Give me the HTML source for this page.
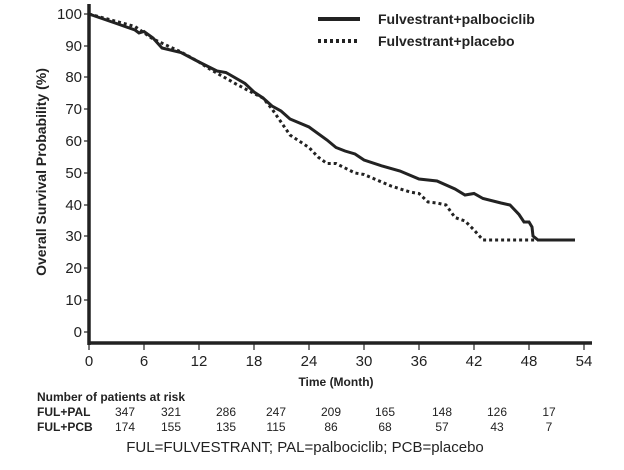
<!DOCTYPE html>
<html><head><style>body{margin:0;background:#fff}svg{display:block}text{font-family:"Liberation Sans",Arial,sans-serif;fill:#222}</style></head><body>
<svg width="624" height="470" viewBox="0 0 624 470">
<g stroke="#222" fill="none">
<line x1="89" y1="4" x2="89" y2="345" stroke-width="3.5"/>
<line x1="87.5" y1="343" x2="592" y2="343" stroke-width="3.5"/>
<g stroke-width="1.2">
<line x1="84" y1="14" x2="89" y2="14"/><line x1="84" y1="46" x2="89" y2="46"/><line x1="84" y1="77" x2="89" y2="77"/><line x1="84" y1="109" x2="89" y2="109"/><line x1="84" y1="141" x2="89" y2="141"/><line x1="84" y1="173" x2="89" y2="173"/><line x1="84" y1="205" x2="89" y2="205"/><line x1="84" y1="236" x2="89" y2="236"/><line x1="84" y1="268" x2="89" y2="268"/><line x1="84" y1="300" x2="89" y2="300"/><line x1="84" y1="332" x2="89" y2="332"/>
<line x1="89" y1="343" x2="89" y2="350"/><line x1="144" y1="343" x2="144" y2="350"/><line x1="199" y1="343" x2="199" y2="350"/><line x1="254" y1="343" x2="254" y2="350"/><line x1="309" y1="343" x2="309" y2="350"/><line x1="364" y1="343" x2="364" y2="350"/><line x1="419" y1="343" x2="419" y2="350"/><line x1="474" y1="343" x2="474" y2="350"/><line x1="529" y1="343" x2="529" y2="350"/><line x1="584" y1="343" x2="584" y2="350"/>
</g>
<polyline stroke-width="3" points="89,14 116.5,23.5 135,30 139,33 144,31.5 153,38 162,48 181,52.5 199,62 217,71 226,72.5 245,83.5 254,92 263,98 272,106 281,111 290,119 309,127 327,140 336,147.5 345,151 355,154 364,160 382,166 400,171 419,179 437,181 455,189 465,195 474,193.5 483,198.5 501,203 510,205 519,214.5 524,222 529,222 532,227 533,236 538,240 575,240"/>
<polyline stroke-width="3" stroke-dasharray="3,3" points="89,14 135,26.5 153,39 181,52 199,62 208,68 236,84 254,93.5 263,98 272,109 281,122 290,135 309,147.5 318,157 327,163.5 336,163.5 355,173 364,174.5 391,186 410,192 419,193.5 428,202 437,203 446,205 455,217.5 465,221 474,230 483,240 556,240"/>
<line x1="318" y1="19" x2="360" y2="19" stroke-width="4"/>
<line x1="318" y1="41" x2="360" y2="41" stroke-width="4" stroke-dasharray="3,3"/>
</g>
<text x="378" y="24" font-size="14" font-weight="bold">Fulvestrant+palbociclib</text>
<text x="378" y="46" font-size="14" font-weight="bold">Fulvestrant+placebo</text>
<g font-size="15" text-anchor="end">
<text x="82" y="19">100</text><text x="82" y="51">90</text><text x="82" y="82">80</text><text x="82" y="114">70</text><text x="82" y="146">60</text><text x="82" y="178">50</text><text x="82" y="210">40</text><text x="82" y="241">30</text><text x="82" y="273">20</text><text x="82" y="305">10</text><text x="82" y="337">0</text>
</g>
<g font-size="15" text-anchor="middle">
<text x="89" y="366">0</text><text x="144" y="366">6</text><text x="199" y="366">12</text><text x="254" y="366">18</text><text x="309" y="366">24</text><text x="364" y="366">30</text><text x="419" y="366">36</text><text x="474" y="366">42</text><text x="529" y="366">48</text><text x="584" y="366">54</text>
</g>
<text x="336" y="386" font-size="12" font-weight="bold" text-anchor="middle">Time (Month)</text>
<text transform="translate(46,172) rotate(-90)" font-size="14" font-weight="bold" text-anchor="middle">Overall Survival Probability (%)</text>
<text x="37" y="401" font-size="12" font-weight="bold">Number of patients at risk</text>
<text x="37" y="416" font-size="12" font-weight="bold">FUL+PAL</text>
<text x="37" y="431" font-size="12" font-weight="bold">FUL+PCB</text>
<g font-size="12" text-anchor="middle">
<text x="125" y="416">347</text><text x="171" y="416">321</text><text x="226" y="416">286</text><text x="276" y="416">247</text><text x="331" y="416">209</text><text x="385" y="416">165</text><text x="442" y="416">148</text><text x="497" y="416">126</text><text x="549" y="416">17</text>
<text x="125" y="431">174</text><text x="171" y="431">155</text><text x="226" y="431">135</text><text x="276" y="431">115</text><text x="331" y="431">86</text><text x="385" y="431">68</text><text x="442" y="431">57</text><text x="497" y="431">43</text><text x="549" y="431">7</text>
</g>
<text x="305" y="452" font-size="15" text-anchor="middle">FUL=FULVESTRANT; PAL=palbociclib; PCB=placebo</text>
</svg>
</body></html>
